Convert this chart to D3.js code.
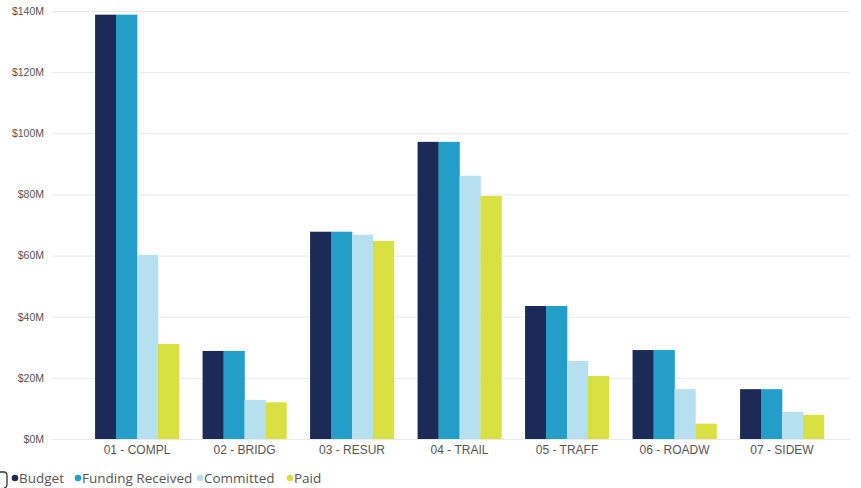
<!DOCTYPE html>
<html><head><meta charset="utf-8">
<script src="https://cdn.jsdelivr.net/npm/d3@7"></script>
<style>body{margin:0;background:#fff;}svg{display:block;font-family:"Open Sans","Noto Sans",sans-serif;}</style>
</head><body><svg id="c" width="861" height="488"></svg>
<script>
const categories = ["01 - COMPL","02 - BRIDG","03 - RESUR","04 - TRAIL","05 - TRAFF","06 - ROADW","07 - SIDEW"];
const seriesNames = ["Budget","Funding Received","Committed","Paid"];
const budget = [138.8, 28.8, 67.8, 97.2, 43.5, 29.1, 16.3];
const fundingReceived = [138.8, 28.8, 67.8, 97.2, 43.5, 29.1, 16.3];
const committed = [60.2, 12.8, 66.8, 86.1, 25.5, 16.3, 8.9];
const paid = [31.1, 12.0, 64.8, 79.5, 20.6, 5.0, 7.9];
const yTicks = [0,20,40,60,80,100,120,140];
const colors = ["#1b2a56","#229ec8","#b6e0f0","#d8e042"];

const seriesValues = [budget, fundingReceived, committed, paid];
const svg = d3.select("#c");
const y = d3.scaleLinear().domain([0,140]).range([439,11]);
const x = d3.scaleBand().domain(categories).range([83.25,835.75]).paddingInner(0.22).paddingOuter(0.11);
const xs = d3.scaleBand().domain(seriesNames).range([0,x.bandwidth()]);

// gridlines
svg.append("g").selectAll("line").data(yTicks).join("line")
  .attr("x1",52).attr("x2",850)
  .attr("y1",d=>y(d)+0.5).attr("y2",d=>y(d)+0.5)
  .attr("stroke","#e9e9e9").attr("stroke-width",1);

// y axis labels
const yAxis = d3.axisLeft(y).tickValues(yTicks).tickSize(0).tickPadding(0).tickFormat(d=>"$"+d+"M");
const ya = svg.append("g").attr("transform","translate(44,0)").call(yAxis);
ya.select(".domain").remove();
ya.selectAll("text").attr("fill","#555").style("font-size","10.5px").attr("dy","0.32em");

// bars
const g = svg.append("g");
categories.forEach((c,i)=>{
  seriesNames.forEach((s,j)=>{
    g.append("rect")
      .attr("x", x(c)+xs(s))
      .attr("y", y(seriesValues[j][i]))
      .attr("width", xs.bandwidth()+0.3)
      .attr("height", y(0)-y(seriesValues[j][i]))
      .attr("fill", colors[j]);
  });
});

// x axis labels
const xAxis = d3.axisBottom(x).tickSize(0).tickPadding(0);
const xa = svg.append("g").attr("transform","translate(0,445)").call(xAxis);
xa.select(".domain").remove();
xa.selectAll("text").attr("fill","#555").style("font-size","12px").attr("dy","0.71em");

// legend
const legX = [15,78,200,290];
const leg = svg.append("g");
seriesNames.forEach((s,j)=>{
  leg.append("circle").attr("cx",legX[j]).attr("cy",478).attr("r",3.3).attr("fill",colors[j]);
  leg.append("text").attr("x",legX[j]+4).attr("y",478).attr("dy","0.35em")
    .attr("fill","#555").style("font-size","13.5px").text(s);
});
// partial icon at left edge
svg.append("path").attr("d","M0,472 L4,472 Q7,472 7,476 L7,484 Q7,488 4,488").attr("fill","none").attr("stroke","#333").attr("stroke-width",1.3);
</script></body></html>
